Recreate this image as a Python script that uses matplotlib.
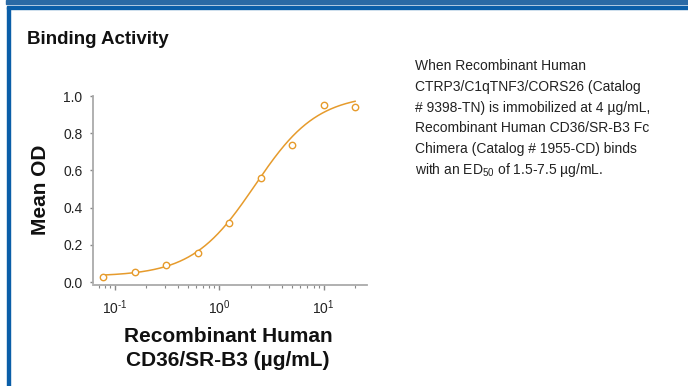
import numpy as np
import matplotlib
matplotlib.use("Agg")
import matplotlib.pyplot as plt
from matplotlib.patches import Rectangle
from matplotlib.ticker import LogLocator, NullFormatter, FuncFormatter

plt.rcParams['font.family'] = ['Liberation Sans', 'DejaVu Sans']
plt.rcParams['mathtext.fontset'] = 'custom'
plt.rcParams['mathtext.rm'] = 'Liberation Sans'
plt.rcParams['mathtext.it'] = 'Liberation Sans:italic'
plt.rcParams['mathtext.bf'] = 'Liberation Sans:bold'

# ---- data ----
concentration = [0.078, 0.156, 0.3125, 0.625, 1.25, 2.5, 5.0, 10.0, 20.0]
mean_od = [0.025, 0.056, 0.091, 0.154, 0.319, 0.561, 0.737, 0.953, 0.941]
# 4-parameter logistic fit parameters
fit_bottom = 0.03
fit_top = 1.01
fit_ec50 = 2.2
fit_hill = 1.45
y_ticks = [0.0, 0.2, 0.4, 0.6, 0.8, 1.0]

title = "Binding Activity"
desc_lines = [
    "When Recombinant Human",
    "CTRP3/C1qTNF3/CORS26 (Catalog",
    "# 9398-TN) is immobilized at 4 µg/mL,",
    "Recombinant Human CD36/SR-B3 Fc",
    "Chimera (Catalog # 1955-CD) binds",
    "with an ED$_{\\mathrm{50}}$ of 1.5-7.5 µg/mL.",
]
xlabel_lines = ["Recombinant Human", "CD36/SR-B3 (µg/mL)"]
ylabel = "Mean OD"

W, H = 688, 386
fig = plt.figure(figsize=(W / 100, H / 100), dpi=100)

def fx(px):
    return px / W

def fy(py):
    return 1 - py / H

# frame decorations
blue = '#0a5ea8'
fig.patches.append(Rectangle((fx(6), fy(4)), 1, 4 / H, transform=fig.transFigure,
                             color='#2a6aa5', zorder=0))
fig.patches.append(Rectangle((fx(7), fy(9)), 1, 2.5 / H, transform=fig.transFigure,
                             color=blue, zorder=0))
fig.patches.append(Rectangle((fx(7), 0), 2.5 / W, fy(7), transform=fig.transFigure,
                             color=blue, zorder=0))

# axes
ax = fig.add_axes([fx(93), fy(285), fx(367) - fx(93), fy(96) - fy(285)])
curve_color = '#e69b2c'
xs = np.logspace(np.log10(0.078), np.log10(20), 300)
ys = fit_bottom + (fit_top - fit_bottom) * (xs / fit_ec50) ** fit_hill / (1 + (xs / fit_ec50) ** fit_hill)
ax.plot(xs, ys, color=curve_color, lw=1.1, zorder=2)
ax.plot(concentration, mean_od, linestyle='none', marker='o', markersize=4.6,
        markerfacecolor='white', markeredgecolor=curve_color, markeredgewidth=1.0, zorder=3)

ax.set_xscale('log')
ax.set_xlim(0.062, 26)
ax.set_ylim(-0.016, 1.0)
ax.set_yticks(y_ticks)
ax.set_yticklabels([f"{v:.1f}" for v in y_ticks])
ax.xaxis.set_major_locator(LogLocator(base=10, numticks=10))
ax.xaxis.set_minor_locator(LogLocator(base=10, subs=np.arange(2, 10), numticks=10))
ax.xaxis.set_minor_formatter(NullFormatter())

def log_fmt(v, pos):
    e = int(round(np.log10(v)))
    if e < 0:
        return "$10^{\\text{-}%d}$" % (-e)
    return "$10^{%d}$" % e

ax.xaxis.set_major_formatter(FuncFormatter(log_fmt))

for s in ['top', 'right']:
    ax.spines[s].set_visible(False)
spine_color = '#aaaaaa'
ax.spines['left'].set_color(spine_color)
ax.spines['bottom'].set_color(spine_color)
ax.spines['left'].set_linewidth(1.3)
ax.spines['bottom'].set_linewidth(1.3)
ax.spines['left'].set_bounds(-0.005, 1.0)

ax.tick_params(axis='y', direction='out', length=2.5, width=1.0, color='#888888',
               labelsize=10, labelcolor='#222222', pad=5)
ax.tick_params(axis='x', which='major', direction='out', length=3.5, width=1.0,
               color='#888888', labelsize=10, labelcolor='#222222', pad=6)
ax.tick_params(axis='x', which='minor', direction='out', length=2.5, width=0.8,
               color='#888888')
ax.patch.set_alpha(0)

# texts
fig.text(fx(27), fy(44), title, fontsize=13.5, fontweight='bold', va='baseline', ha='left',
         color='#111111')
for i, line in enumerate(desc_lines):
    fig.text(fx(415), fy(70.5 + 20.6 * i), line, fontsize=10, va='baseline', ha='left',
             color='#222222')
fig.text(fx(40), fy(190), ylabel, fontsize=15, fontweight='bold', rotation=90,
         va='center', ha='center', color='#111111')
for i, line in enumerate(xlabel_lines):
    fig.text(fx(228), fy(342 + 23.5 * i), line, fontsize=15, fontweight='bold',
             va='baseline', ha='center', color='#111111')

fig.savefig('out.png', dpi=100)
